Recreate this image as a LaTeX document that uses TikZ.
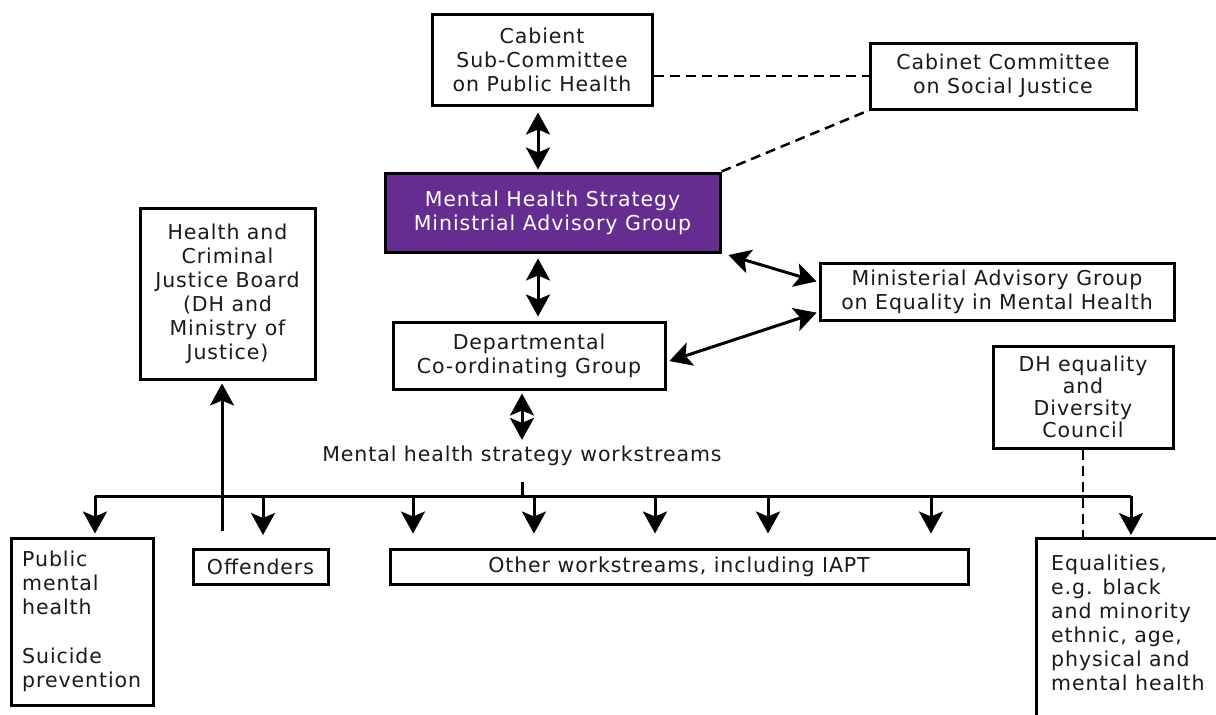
\documentclass[tikz,border=0pt]{standalone}
\usepackage{fontspec}
\setmainfont{DejaVu Sans}[LetterSpace=4.5]
\usetikzlibrary{arrows.meta,calc}
\definecolor{txt}{HTML}{1A1A1A}
\definecolor{mhpurple}{HTML}{662D91}
\begin{document}
\begin{tikzpicture}[x=1pt,y=-1pt,
  every node/.style={font=\fontsize{20.5}{24}\selectfont, text=txt},
  box/.style={draw=black, line width=3pt, inner sep=0pt, align=center},
  ln/.style={line width=3pt, draw=black},
  arr/.style={ln, -{Stealth[length=22pt,width=24pt,inset=5pt]}},
  dbl/.style={ln, {Stealth[length=22pt,width=24pt,inset=5pt]}-{Stealth[length=22pt,width=24pt,inset=5pt]}},
  dsh/.style={line width=2.5pt, draw=black, dash pattern=on 10pt off 6pt}]
\useasboundingbox (0,0) rectangle (1216,715);
\fill[white] (0,0) rectangle (1216,715);

% boxes
\node[box, minimum width=220pt, minimum height=91pt] (cab) at (542,59.5) {Cabient\\Sub-Committee\\on Public Health};
\node[box, minimum width=266pt, minimum height=66pt] (csj) at (1003,76) {Cabinet Committee\\on Social Justice};
\node[box, fill=mhpurple, text=white, minimum width=335pt, minimum height=79pt] (mha) at (552.5,212.5) {Mental Health Strategy\\Ministrial Advisory Group};
\node[box, minimum width=175pt, minimum height=171pt] (hcj) at (227.5,293.5) {Health and\\Criminal\\Justice Board\\(DH and\\Ministry of\\Justice)};
\node[box, minimum width=354pt, minimum height=57pt] (mag) at (997,291.5) {Ministerial Advisory Group\\on Equality in Mental Health};
\node[box, minimum width=272pt, minimum height=67pt] (dcg) at (529,355.5) {Departmental\\Co-ordinating Group};
\node[box, minimum width=180pt, minimum height=102pt, font=\fontsize{20.5}{22}\selectfont] (dhe) at (1083,397) {DH equality\\and\\Diversity\\Council};
\node[inner sep=0pt] (ws) at (522,456) {Mental health strategy workstreams};
\node[box, minimum width=135pt, minimum height=35pt] (off) at (260.5,566.5) {Offenders};
\node[box, minimum width=578pt, minimum height=35pt] (oth) at (679,566.5) {Other workstreams, including IAPT};
\node[box, minimum width=142pt, minimum height=167pt] (pmh) at (82,621.5) {};
\node[anchor=north west, align=left, inner sep=0pt] (pmht) at (22,551) {Public\\mental\\health\\[24.5pt]Suicide\\prevention};
\node[anchor=north west, align=left, inner sep=0pt] (eqt) at (1051,555) {Equalities,\\e.g. black\\and minority\\ethnic, age,\\physical and\\mental health};
\coordinate (eqc) at (1036,538);
\draw[ln] (1036,716) -- (eqc) -- (1217,538);

% dashed links
\draw[dsh] (cab.east |- csj.west) -- (csj.west);
\draw[dsh] (mha.north east) -- (csj.south west);
\draw[dsh] (dhe.south) -- (dhe.south |- eqc);

% double arrows
\draw[dbl, shorten <=6pt, shorten >=2pt] ([xshift=-4pt]cab.south) -- ([xshift=-14.5pt]mha.north);
\draw[dbl, shorten <=5pt, shorten >=4pt] ([xshift=-14.5pt]mha.south) -- ([xshift=9pt]dcg.north);
\draw[dbl, shorten <=3pt, shorten >=6pt] (dcg.south -| ws.north) -- (ws.north);
\draw[dbl, shorten <=2pt, shorten >=2pt] ([xshift=5pt,yshift=-1pt]mha.south east) -- ([yshift=9.5pt]mag.west);
\draw[dbl, shorten <=3pt, shorten >=2pt] ([yshift=-6.5pt]dcg.east) -- ([yshift=-20.5pt]mag.west);

% workstream bus
\coordinate (busL) at (95,496);
\coordinate (busR) at (1131,496);
\draw[ln] ([yshift=-16pt]ws.south) -- (ws.south |- busL);
\draw[ln] (busL) -- (busR);
\draw[arr, shorten >=3pt] (busL) -- (busL |- pmh.north);
\draw[arr, shorten >=14pt] (263,496) -- (263,549);
\foreach \x in {413,534,655,768,931}
  \draw[arr, shorten >=14pt] (\x,496) -- (oth.north -| \x,0);
\draw[arr, shorten >=3pt] (busR) -- (busR |- eqc);
\draw[arr, shorten >=3pt] (222,531) -- (hcj.south -| 222,0);
\end{tikzpicture}
\end{document}
